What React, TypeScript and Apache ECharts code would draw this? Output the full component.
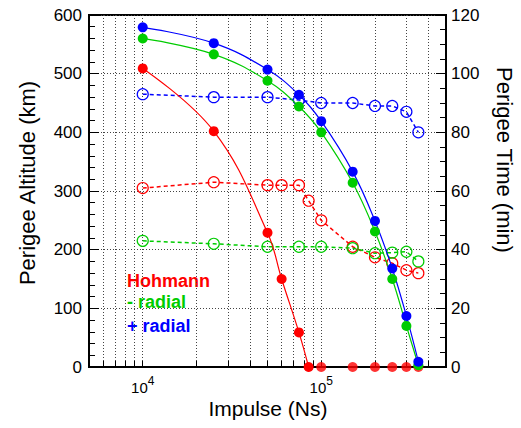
import React, { useEffect, useRef } from 'react';
import * as echarts from 'echarts';

// Impulse (Ns) sample points
const impulse = [10000, 25000, 50000, 75000, 100000, 150000, 200000, 250000, 300000, 350000];
const hohmannImpulse = [10000, 25000, 50000, 60000, 75000, 85000];
const hohmannZeroImpulse = [100000, 150000, 200000, 250000, 300000, 350000];
const hohmannTimeImpulse = [10000, 25000, 50000, 60000, 75000, 85000, 100000, 150000, 200000, 250000, 300000, 350000];

// Perigee altitude (km)
const hohmannAltitude = [509, 402, 229, 150, 59, 0];
const hohmannZeroAltitude = [0, 0, 0, 0, 0, 0];
const minusRadialAltitude = [560, 533, 488, 444, 400, 314, 231, 150, 70, 3];
const plusRadialAltitude = [579, 552, 507, 464, 419, 333, 249, 168, 87, 9];

// Perigee time (min)
const hohmannTime = [61, 63, 62, 62, 62, 56.7, 50, 41, 37.4, 35.4, 33, 32];
const minusRadialTime = [43, 42, 41, 41, 41, 40.5, 38.8, 39, 39.3, 36];
const plusRadialTime = [93, 92, 92, 91, 90, 90, 89, 89, 87, 80];

// Axis settings
const xLabelExponents = [4, 5];
const altitudeRange = [0, 600];
const timeRange = [0, 120];
const impulseRange = [5000, 500000];

const legendItems = ['Hohmann', '- radial', '+ radial'];

const RED = '#ff0000';
const GREEN = '#00cc00';
const BLUE = '#0000ff';
const FONT = '"Liberation Sans", Arial, Helvetica, sans-serif';

const pairs = (xs: number[], ys: number[]) => xs.map((x, i) => [x, ys[i]]);

export default function App() {
  const ref = useRef<HTMLDivElement>(null);
  useEffect(() => {
    if (!ref.current) return;
    const chart = echarts.init(ref.current, undefined, { renderer: 'svg' });
    const gridDot = { type: [1, 2] as any, color: '#444', width: 1 };
    const solid = (name: string, color: string, xs: number[], ys: number[]) => ({
      name,
      type: 'line',
      yAxisIndex: 0,
      data: pairs(xs, ys),
      smooth: 0.4,
      symbol: 'circle',
      symbolSize: 10,
      itemStyle: { color },
      lineStyle: { color, width: 1.2 },
      z: 3,
    });
    const dashed = (name: string, color: string, xs: number[], ys: number[]) => ({
      name,
      type: 'line',
      yAxisIndex: 1,
      data: pairs(xs, ys),
      symbol: 'circle',
      symbolSize: 11,
      itemStyle: { color: 'rgba(0,0,0,0)', borderColor: color, borderWidth: 1.2 },
      lineStyle: { color, width: 1.5, type: [4, 3] },
      z: 2,
    });
    const option: any = {
      animation: false,
      backgroundColor: '#fff',
      grid: {
        left: 89, right: 75, top: 15, bottom: 61,
        show: true, borderColor: '#000', borderWidth: 2, backgroundColor: 'transparent',
      },
      xAxis: {
        type: 'log',
        logBase: 10,
        min: impulseRange[0],
        max: impulseRange[1],
        axisLine: { show: true, onZero: false, lineStyle: { color: '#000', width: 2 } },
        axisTick: { show: true, inside: true, length: 6, lineStyle: { color: '#000', width: 1 } },
        minorTick: { show: true, splitNumber: 9, length: 6, lineStyle: { color: '#000', width: 1 } },
        splitLine: { show: true, lineStyle: gridDot },
        minorSplitLine: { show: true, lineStyle: gridDot },
        axisLabel: {
          margin: 14,
          color: '#000',
          formatter: (v: number) => {
            const e = Math.round(Math.log10(v));
            if (xLabelExponents.includes(e) && Math.abs(v - Math.pow(10, e)) < 1e-6) {
              return `{b|10}{s|${e}}`;
            }
            return '';
          },
          rich: {
            b: { fontSize: 15, lineHeight: 12, fontFamily: FONT, color: '#000' },
            s: { fontSize: 12, lineHeight: 8, fontFamily: FONT, color: '#000', padding: [0, 0, 12, 0] },
          },
        },
      },
      yAxis: [
        {
          type: 'value',
          position: 'left',
          min: altitudeRange[0],
          max: altitudeRange[1],
          interval: 100,
          axisLine: { show: true, lineStyle: { color: '#000', width: 2 } },
          axisTick: { show: true, inside: true, length: 10, lineStyle: { color: '#000' } },
          minorTick: { show: true, splitNumber: 5, length: 6, lineStyle: { color: '#000' } },
          splitLine: { show: true, lineStyle: gridDot },
          axisLabel: { color: '#000', fontSize: 17, fontFamily: FONT, margin: 7 },
        },
        {
          type: 'value',
          position: 'right',
          min: timeRange[0],
          max: timeRange[1],
          interval: 20,
          axisLine: { show: true, lineStyle: { color: '#000', width: 2 } },
          axisTick: { show: true, inside: true, length: 10, lineStyle: { color: '#000' } },
          minorTick: { show: true, splitNumber: 4, length: 6, lineStyle: { color: '#000' } },
          splitLine: { show: false },
          axisLabel: { color: '#000', fontSize: 17, fontFamily: FONT, margin: 5 },
        },
      ],
      series: [
        dashed('Hohmann time', RED, hohmannTimeImpulse, hohmannTime),
        dashed('- radial time', GREEN, impulse, minusRadialTime),
        dashed('+ radial time', BLUE, impulse, plusRadialTime),
        solid('Hohmann', RED, hohmannImpulse, hohmannAltitude),
        {
          name: 'Hohmann zero',
          type: 'scatter',
          yAxisIndex: 0,
          data: pairs(hohmannZeroImpulse, hohmannZeroAltitude),
          symbol: 'circle',
          symbolSize: 10,
          itemStyle: { color: RED },
          clip: false,
          z: 3,
        },
        solid('- radial', GREEN, impulse, minusRadialAltitude),
        solid('+ radial', BLUE, impulse, plusRadialAltitude),
      ],
      graphic: [
        {
          type: 'text', x: 27, y: 183, rotation: Math.PI / 2,
          style: { text: 'Perigee Altitude (km)', fill: '#000', font: `22px ${FONT}`, align: 'center', verticalAlign: 'middle', textAlign: 'center', textVerticalAlign: 'middle' },
        },
        {
          type: 'text', x: 504, y: 160, rotation: -Math.PI / 2,
          style: { text: 'Perigee Time (min)', fill: '#000', font: `22px ${FONT}`, align: 'center', verticalAlign: 'middle', textAlign: 'center', textVerticalAlign: 'middle' },
        },
        {
          type: 'text', x: 268, y: 408,
          style: { text: 'Impulse (Ns)', fill: '#000', font: `21px ${FONT}`, lineHeight: 12, align: 'center', verticalAlign: 'middle', textAlign: 'center', textVerticalAlign: 'middle' },
        },
        ...legendItems.map((t, i) => ({
          type: 'text', x: 127, y: [281, 302, 326][i],
          style: { text: t, fill: [RED, GREEN, BLUE][i], font: `bold 18px ${FONT}`, align: 'left', verticalAlign: 'middle', textAlign: 'left', textVerticalAlign: 'middle' },
        })),
      ],
    };
    chart.setOption(option);
    return () => chart.dispose();
  }, []);
  return <div ref={ref} style={{ position: 'fixed', left: 0, top: 0, width: 521, height: 428, background: '#fff' }} />;
}
